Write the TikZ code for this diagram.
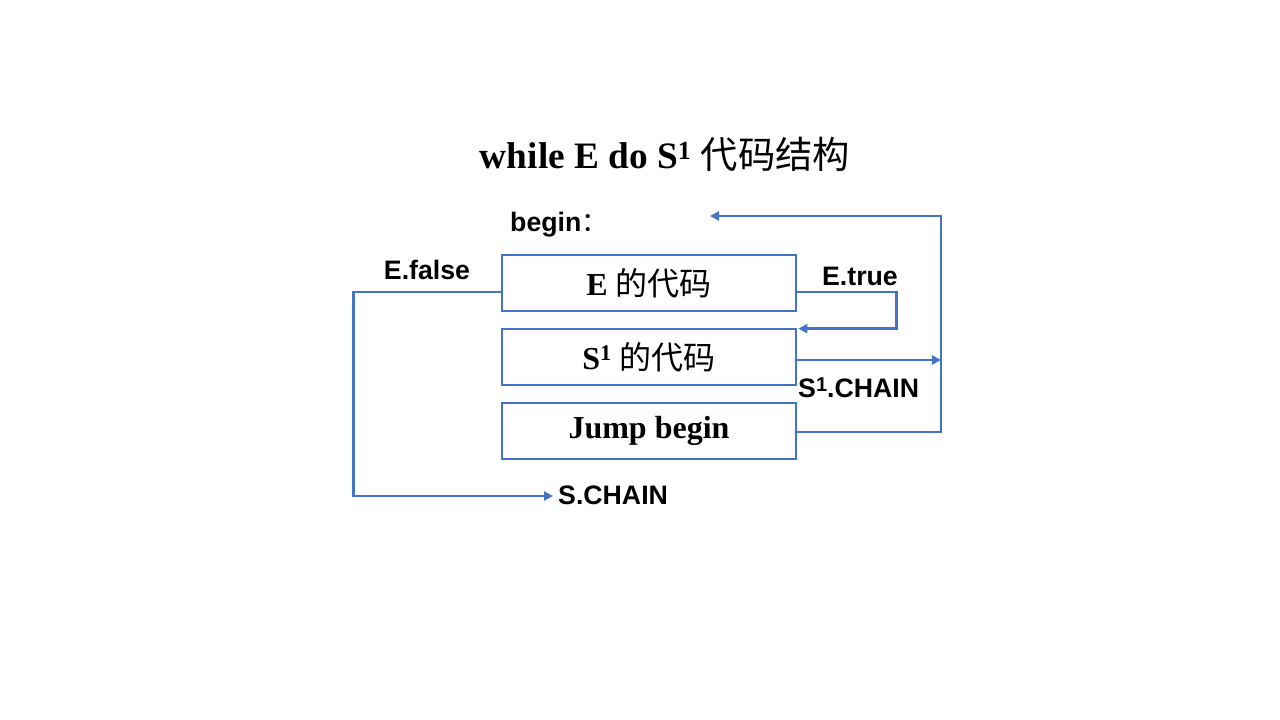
\documentclass[tikz,border=0pt]{standalone}
\usepackage{fontspec}
\setmainfont{Liberation Serif}
\newfontfamily\lsans{Liberation Sans}
\newfontfamily\cjk{Noto Sans CJK SC}
\usetikzlibrary{arrows.meta,calc}
\definecolor{lineblue}{RGB}{68,114,196}
\begin{document}
\begin{tikzpicture}[x=1pt,y=-1pt,
  codebox/.style={draw=lineblue,line width=2.8pt,minimum width=294pt,minimum height=56pt,inner sep=0pt,
    font=\fontsize{32}{38}\selectfont\bfseries},
  conn/.style={draw=lineblue,line width=2.8pt},
  tip/.style={-{Triangle[length=9pt,width=9pt]}},
  lbl/.style={font=\fontsize{26.7}{32}\selectfont\lsans\bfseries,inner sep=0pt}]
\useasboundingbox (0,0) rectangle (1280,720);
\node[font=\fontsize{37.3}{44}\selectfont\bfseries,inner sep=0pt] (title) at (665,154) {while E do S\textsuperscript{1} {\mdseries\cjk 代码结构}};
\node[codebox] (E) at (649,283) {E {\mdseries\cjk 的代码}};
\node[codebox] (S) at (649,357) {S\textsuperscript{1} {\mdseries\cjk 的代码}};
\node[codebox] (J) at (649,431) {Jump begin};
\node[lbl,anchor=west] (begin) at (510,225) {begin{\mdseries\cjk ：}};
\node[lbl] (efalse) at (427,270) {E.false};
\node[lbl] (etrue) at (860,276) {E.true};
\node[lbl,anchor=west] (s1chain) at (798,388) {S{\fontsize{20}{24}\selectfont\raisebox{0.55ex}{1}}.CHAIN};
\node[lbl,anchor=west] (schain) at (558,495) {S.CHAIN};
\coordinate (falseend) at (553,496);
\coordinate (beginpt) at (710,216);
\coordinate (rightx) at (941,0);
\draw[conn,tip] ([yshift=-9pt]E.west) -- ++(-147,0) |- (falseend);
\draw[conn,tip] ([yshift=-9pt]E.east) -- ++(99,0) |- ([xshift=1pt,yshift=-1pt]S.north east);
\draw[conn,tip] ([yshift=-3pt]S.east) -- ([yshift=-3pt]S.east -| rightx);
\draw[conn,tip] ([yshift=-1pt]J.east) -| (rightx |- beginpt) -- (beginpt);
\end{tikzpicture}
\end{document}
